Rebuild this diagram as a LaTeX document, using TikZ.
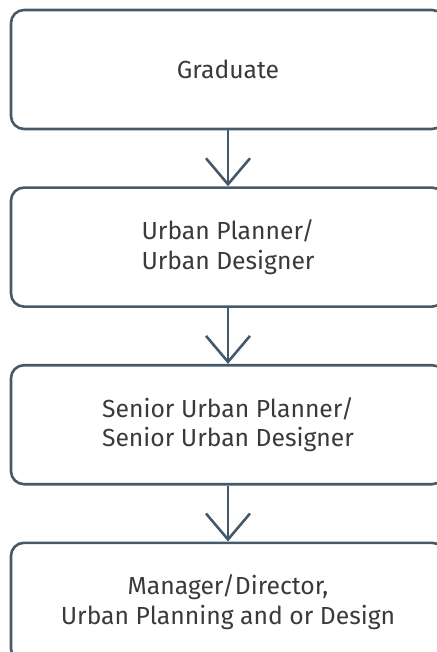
\documentclass[tikz,border=0pt]{standalone}
\usepackage{fontspec}
\setmainfont{Fira Sans}
\usetikzlibrary{positioning,arrows.meta}
\definecolor{framecol}{HTML}{46596B}
\definecolor{textcol}{HTML}{3A3A3A}

\begin{document}
\begin{tikzpicture}[x=1bp,y=1bp,
    stage/.style={draw=framecol, line width=2.6bp, rounded corners=13bp,
      minimum width=434bp, minimum height=119bp, inner sep=0pt,
      align=center, text=textcol, font=\fontsize{24.8}{30}\selectfont},
    flow/.style={draw=framecol, line width=2.6bp,
      -{Straight Barb[length=26bp,width=44bp]}},
    node distance=56bp]
  \useasboundingbox (0,0) rectangle (437,-652);

  \node[stage] (grad) at (228,-69.5) {Graduate};
  \node[stage, below=of grad] (planner) {Urban Planner/\\Urban Designer};
  \node[stage, below=of planner] (senior) {Senior Urban Planner/\\Senior Urban Designer};
  \node[stage, below=of senior] (manager) {Manager/Director,\\Urban Planning and or Design};

  \draw[flow] (grad) -- (planner);
  \draw[flow] (planner) -- (senior);
  \draw[flow] (senior) -- (manager);
\end{tikzpicture}
\end{document}
